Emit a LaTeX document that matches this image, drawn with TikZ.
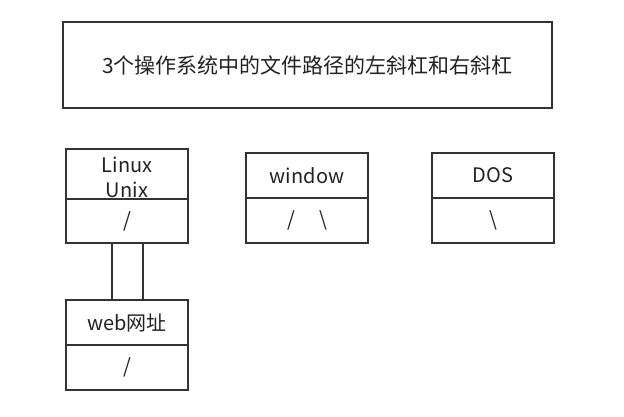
\documentclass[tikz,border=0pt]{standalone}
\usepackage{fontspec}
\setmainfont{Noto Sans CJK SC}
\definecolor{boxline}{HTML}{333333}
\definecolor{boxtext}{HTML}{222222}
\begin{document}
\begin{tikzpicture}[x=1pt,y=-1pt]
\useasboundingbox (0,0) rectangle (624,417);
\begin{scope}[nodes={shape=rectangle, draw=boxline, line width=2pt, inner sep=0pt,
    minimum width=122pt, minimum height=45pt, text=boxtext, font=\fontsize{20}{25}\selectfont}]
  \node (title) [minimum width=489pt, minimum height=86pt, font=\fontsize{21}{25}\selectfont]
    at (307.5,65) {3个操作系统中的文件路径的左斜杠和右斜杠};
  \node (linuxname) [minimum height=50pt] at (127,174)
    {\raisebox{-6pt}[\height][\depth]{\begin{tabular}{@{}c@{}}Linux\\Unix\end{tabular}}};
  \node (linuxpath) [minimum height=44pt] at (127,221)   {/};
  \node (webname)                         at (127,322.5) {web网址};
  \node (webpath)                         at (127,367.5) {/};
  \node (winname)                         at (307,175.5) {window};
  \node (winpath)                         at (307,220.5) {/\hspace{24pt}\textbackslash};
  \node (dosname)                         at (493,175.5) {DOS};
  \node (dospath)                         at (493,220.5) {\textbackslash};
\end{scope}
\path[draw=boxline, line width=2pt]
  ([xshift=-15.5pt]linuxpath.south) edge ([xshift=-15.5pt]webname.north)
  ([xshift=15.5pt]linuxpath.south)  edge ([xshift=15.5pt]webname.north)
;
\end{tikzpicture}
\end{document}
